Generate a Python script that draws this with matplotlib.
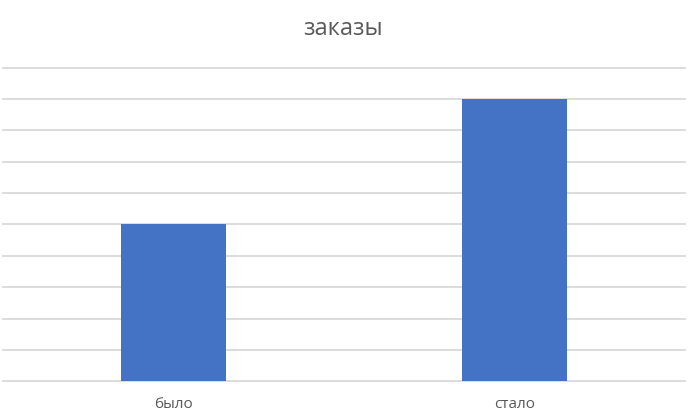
import matplotlib
matplotlib.use('Agg')
import matplotlib.pyplot as plt

# data
categories = ['было', 'стало']
orders = [5, 9]
title = 'заказы'

W, H = 695, 416
fig = plt.figure(figsize=(W / 100, H / 100), dpi=100)
ax = fig.add_axes([3 / W, (H - 381.3) / H, 682 / W, (381.3 - 67.5) / H])

x = range(len(categories))
ax.bar(x, orders, width=0.31, color='#4472C4', zorder=3)

ax.set_xlim(-0.5, len(categories) - 0.5)
ax.set_ylim(0, 10)
ax.set_yticks(range(0, 11))
ax.yaxis.grid(True, color='#D9D9D9', linewidth=1.3, zorder=0)
for gl in ax.get_ygridlines():
    gl.set_clip_on(False)
ax.tick_params(axis='y', left=False, labelleft=False)
ax.tick_params(axis='x', length=0, pad=11, labelsize=11, labelcolor='#595959')
ax.set_xticks(list(x))
ax.set_xticklabels(categories, family=['Open Sans', 'DejaVu Sans'])
for s in ax.spines.values():
    s.set_visible(False)

fig.text(343 / W, 1 - 29 / H, title, ha='center', va='center',
         fontsize=17, color='#595959', family=['Open Sans', 'DejaVu Sans'])

fig.savefig('out.png', dpi=100, facecolor='white')
